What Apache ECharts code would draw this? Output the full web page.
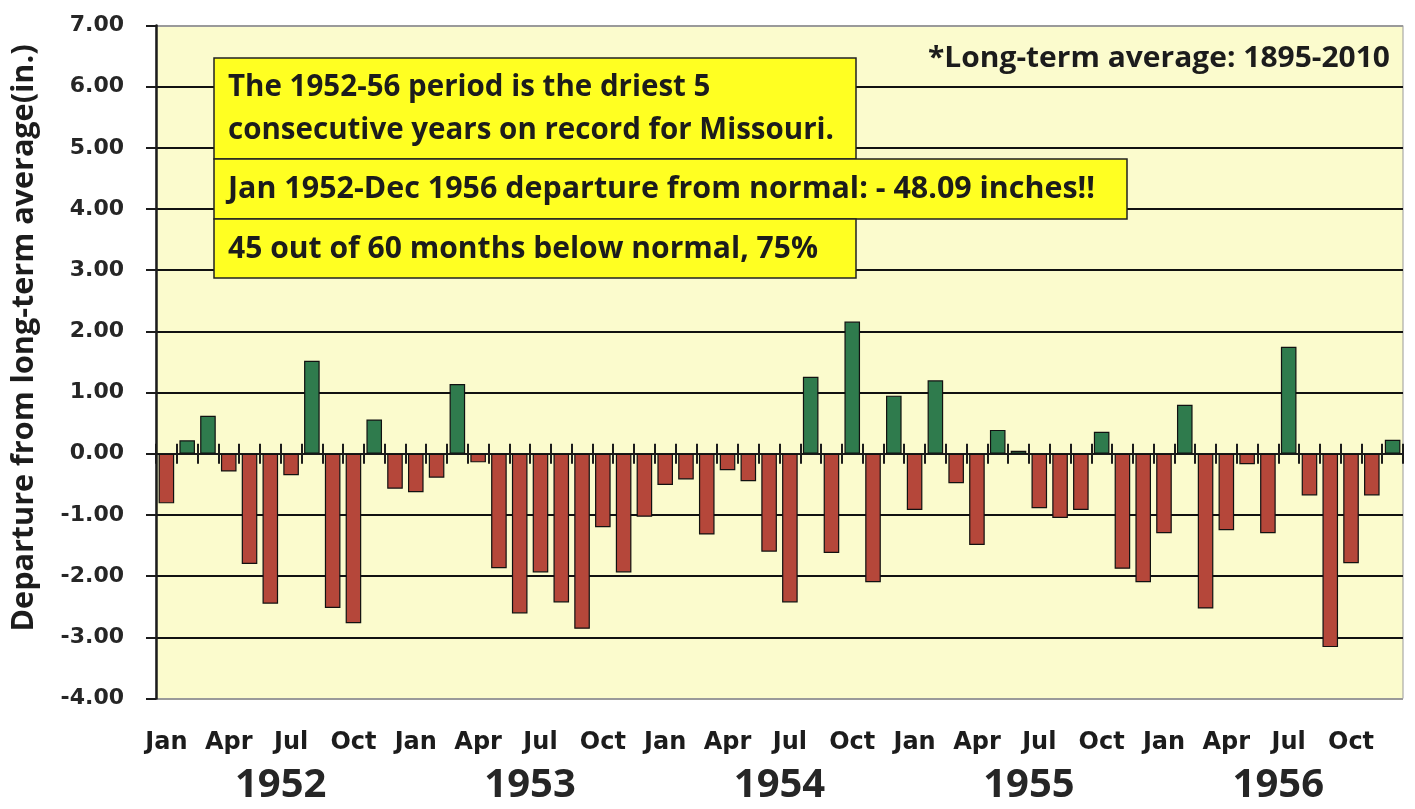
<!DOCTYPE html>
<html>
<head>
<meta charset="utf-8">
<script src="https://cdn.jsdelivr.net/npm/echarts@6/dist/echarts.min.js"></script>
<style>
  html, body { margin: 0; padding: 0; background: #fff; }
  #chart { width: 1415px; height: 809px; }
</style>
</head>
<body>
<div id="chart"></div>
<script>
// monthly departure from long-term average, Jan 1952 - Dec 1956 (inches)
const months = [];
const monthNames = ["Jan", "Feb", "Mar", "Apr", "May", "Jun", "Jul", "Aug", "Sep", "Oct", "Nov", "Dec"];
const years = ["1952", "1953", "1954", "1955", "1956"];
years.forEach(y => monthNames.forEach(m => months.push(m + " " + y)));

const values = [
  -0.81, 0.22, 0.62, -0.29, -1.80, -2.45, -0.35, 1.52, -2.52, -2.77, 0.56, -0.57,
  -0.63, -0.39, 1.14, -0.14, -1.87, -2.61, -1.94, -2.43, -2.86, -1.20, -1.94, -1.03,
  -0.51, -0.42, -1.32, -0.27, -0.45, -1.60, -2.43, 1.26, -1.62, 2.16, -2.10, 0.95,
  -0.92, 1.20, -0.48, -1.49, 0.39, 0.05, -0.89, -1.05, -0.92, 0.36, -1.88, -2.10,
  -1.30, 0.80, -2.53, -1.25, -0.17, -1.30, 1.75, -0.68, -3.16, -1.79, -0.68, 0.23
];

const yMin = -4, yMax = 7;

const notes = [
  "The 1952-56 period is the driest 5",
  "consecutive years on record for Missouri.",
  "Jan 1952-Dec 1956 departure from normal: - 48.09 inches!!",
  "45 out of 60 months below normal, 75%"
];
const sourceNote = "*Long-term average: 1895-2010";
const yName = "Departure from long-term average(in.)";

const GREEN = "#2f7b4d";
const RED = "#b5473a";
const INK = "#1c1c1c";

// measure text so it can be squeezed to the width seen in the picture
const ctx = document.createElement("canvas").getContext("2d");
function fit(text, font, width) {
  ctx.font = font;
  return width / ctx.measureText(text).width;
}

const boxFont = "bold 31px 'Open Sans'";
const s1 = fit(notes[1], boxFont, 606);

function boxText(str, x, y, sx) {
  return {
    type: "text", x: x, y: y, scaleX: sx, z: 101,
    style: { text: str, font: boxFont, fill: INK, textAlign: "left", textVerticalAlign: "middle", align: "left", verticalAlign: "middle" }
  };
}
function box(x, y, w, h) {
  return {
    type: "rect", z: 100,
    shape: { x: x, y: y, width: w, height: h },
    style: { fill: "#ffff22", stroke: "#222", lineWidth: 1.5 }
  };
}

// split line colours: plot border lines grey, inner lines black
const splitColors = [];
for (let v = yMin; v <= yMax; v++) splitColors.push(v === yMin || v === yMax ? "#9a9a9a" : "#111");

const myChart = echarts.init(document.getElementById("chart"));
const option = {
  backgroundColor: "#fff",
  animation: false,
  grid: {
    left: 156, right: 12, top: 25.5, bottom: 110.5,
    show: true, backgroundColor: "#fbfbcd", borderColor: "#9a9a9a", borderWidth: 1
  },
  xAxis: [
    {
      // ticks pointing down from zero line
      type: "category", data: months, position: "bottom",
      axisLine: { onZero: true, onZeroAxisIndex: 0, lineStyle: { color: INK, width: 2 } },
      axisTick: { show: true, interval: 0, length: 10, inside: false, lineStyle: { color: INK, width: 2 } },
      axisLabel: { show: false, interval: 0 },
      splitLine: { show: false }
    },
    {
      // ticks pointing up from zero line
      type: "category", data: months, position: "bottom",
      axisLine: { onZero: true, onZeroAxisIndex: 0, lineStyle: { color: INK, width: 2 } },
      axisTick: { show: true, interval: 0, length: 10, inside: true, lineStyle: { color: INK, width: 2 } },
      axisLabel: { show: false, interval: 0 },
      splitLine: { show: false }
    },
    {
      // month labels under the plot
      type: "category", data: months, position: "bottom",
      axisLine: { show: false, onZero: false },
      axisTick: { show: false },
      axisLabel: {
        interval: 2, margin: 32, color: INK,
        fontFamily: "DejaVu Sans", fontWeight: "bold", fontSize: 24,
        formatter: v => v.split(" ")[0]
      }
    },
    {
      // year labels
      type: "category", data: years, position: "bottom",
      axisLine: { show: false, onZero: false },
      axisTick: { show: false },
      axisLabel: {
        margin: 67, color: "#262626",
        fontFamily: "Open Sans", fontWeight: "bold", fontSize: 40
      }
    }
  ],
  yAxis: {
    type: "value", min: yMin, max: yMax, interval: 1,
    axisLine: { show: true, lineStyle: { color: INK, width: 2.5 } },
    axisTick: { show: true, length: 10, lineStyle: { color: INK, width: 2 } },
    axisLabel: {
      margin: 32, color: "#262626",
      fontFamily: "DejaVu Sans", fontWeight: "bold", fontSize: 22,
      formatter: v => v.toFixed(2)
    },
    splitLine: { show: true, lineStyle: { color: splitColors, width: 2 } }
  },
  series: [
    {
      type: "bar",
      xAxisIndex: 0,
      data: values,
      barCategoryGap: "25%",
      itemStyle: {
        color: p => (p.value >= 0 ? GREEN : RED),
        borderColor: "#111",
        borderWidth: 1.2
      }
    }
  ],
  graphic: [
    box(214, 58, 642, 101),
    box(214, 159, 913, 60),
    box(214, 219, 642, 59),
    boxText(notes[0], 228, 87, s1),
    boxText(notes[1], 228, 130, s1),
    boxText(notes[2], 228, 189, fit(notes[2], boxFont, 867)),
    boxText(notes[3], 228, 249, fit(notes[3], boxFont, 590)),
    {
      type: "text", x: 1390, y: 59, z: 101,
      scaleX: fit(sourceNote, "bold 29px 'Open Sans'", 462),
      style: { text: sourceNote, font: "bold 29px 'Open Sans'", fill: INK, textAlign: "right", textVerticalAlign: "middle", align: "right", verticalAlign: "middle" }
    },
    {
      type: "text", x: 24, y: 338, rotation: Math.PI / 2, z: 101,
      scaleX: fit(yName, "bold 30px 'Open Sans'", 587),
      style: { text: yName, font: "bold 30px 'Open Sans'", fill: INK, textAlign: "center", textVerticalAlign: "middle", align: "center", verticalAlign: "middle" }
    }
  ]
};
myChart.setOption(option);
</script>
</body>
</html>
